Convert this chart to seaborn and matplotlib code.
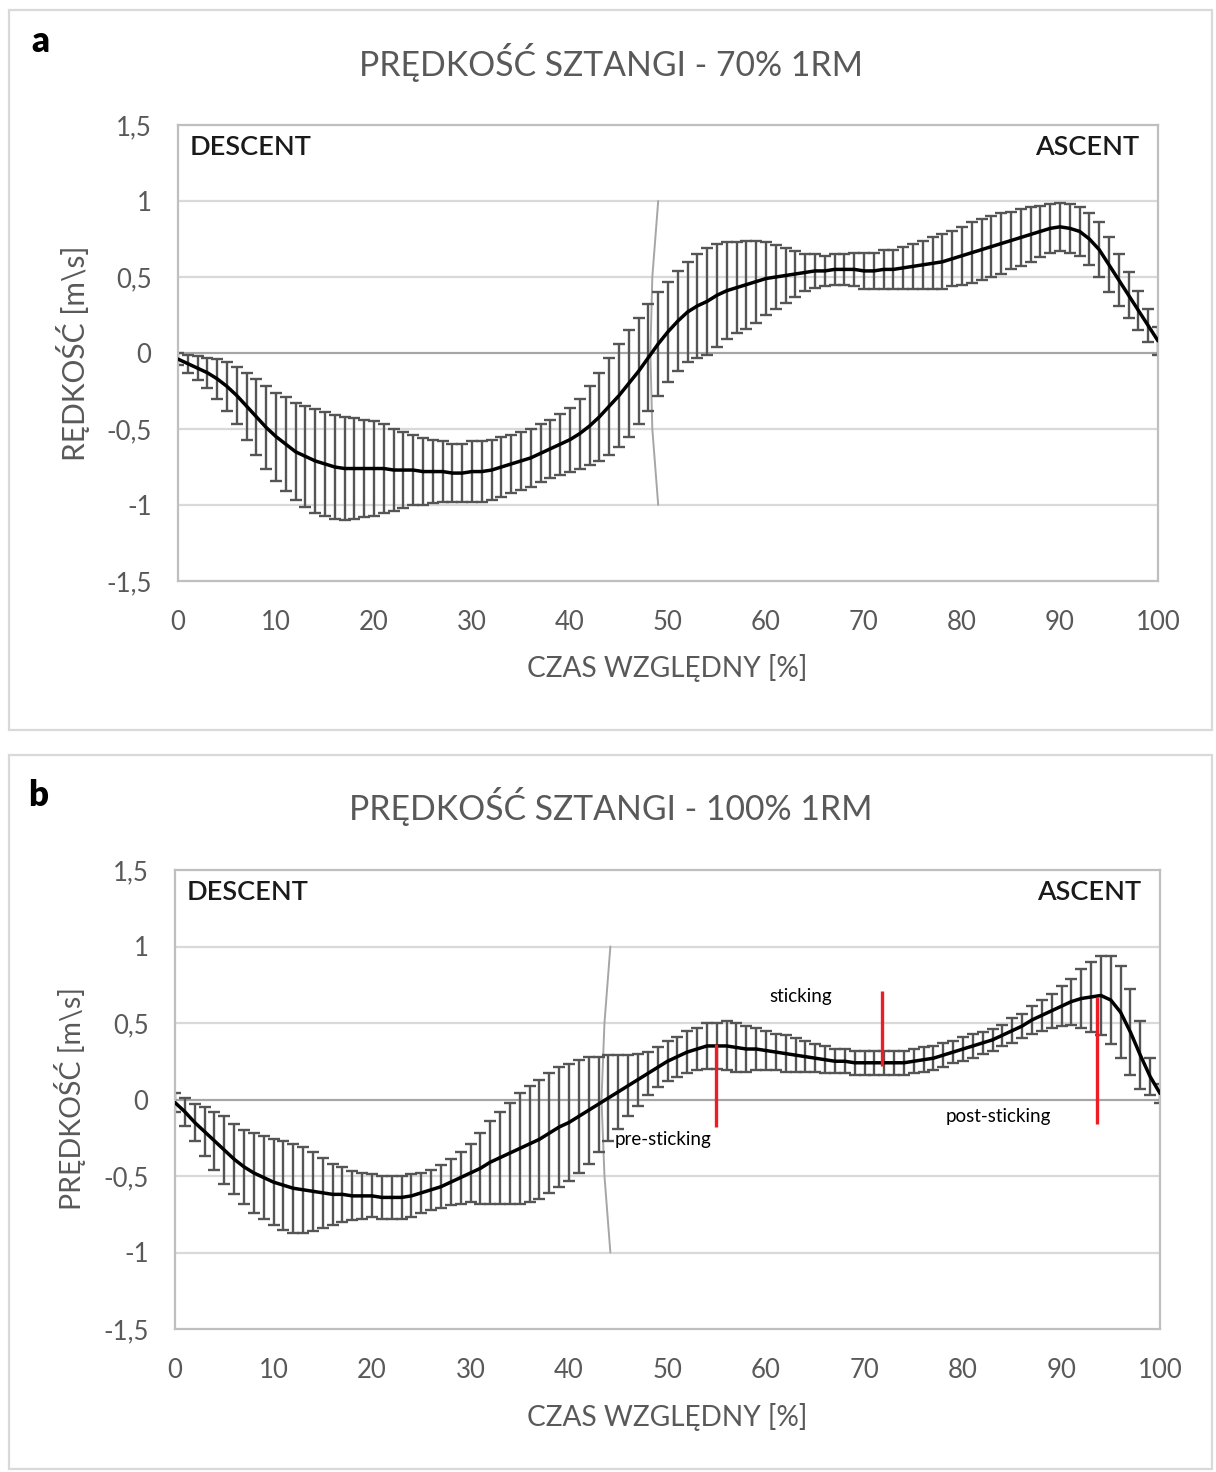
import numpy as np
import pandas as pd
import matplotlib
matplotlib.use("Agg")
import matplotlib.pyplot as plt
from matplotlib.patches import Rectangle
import seaborn as sns

# ---------------- data ----------------
time_pct = list(range(0, 101))

mean_70 = [-0.04, -0.07, -0.10, -0.13, -0.17, -0.22, -0.28, -0.35, -0.42, -0.49,
           -0.55, -0.60, -0.65, -0.68, -0.71, -0.73, -0.75, -0.76, -0.76, -0.76,
           -0.76, -0.76, -0.77, -0.77, -0.77, -0.78, -0.78, -0.78, -0.79, -0.79,
           -0.78, -0.78, -0.77, -0.75, -0.73, -0.71, -0.69, -0.66, -0.63, -0.60,
           -0.57, -0.53, -0.48, -0.42, -0.35, -0.28, -0.20, -0.12, -0.03, 0.06,
           0.14, 0.21, 0.27, 0.31, 0.34, 0.38, 0.41, 0.43, 0.45, 0.47,
           0.49, 0.50, 0.51, 0.52, 0.53, 0.54, 0.54, 0.55, 0.55, 0.55,
           0.54, 0.54, 0.55, 0.55, 0.56, 0.57, 0.58, 0.59, 0.60, 0.62,
           0.64, 0.66, 0.68, 0.70, 0.72, 0.74, 0.76, 0.78, 0.80, 0.82,
           0.83, 0.82, 0.80, 0.75, 0.68, 0.58, 0.48, 0.38, 0.28, 0.18,
           0.08]
sd_70 = [0.04, 0.06, 0.08, 0.10, 0.13, 0.16, 0.19, 0.22, 0.25, 0.27,
         0.29, 0.31, 0.32, 0.33, 0.34, 0.34, 0.34, 0.34, 0.33, 0.32,
         0.31, 0.29, 0.27, 0.25, 0.23, 0.22, 0.21, 0.20, 0.19, 0.19,
         0.20, 0.20, 0.20, 0.20, 0.19, 0.19, 0.19, 0.19, 0.19, 0.20,
         0.21, 0.23, 0.26, 0.29, 0.32, 0.34, 0.35, 0.35, 0.35, 0.34,
         0.33, 0.33, 0.33, 0.34, 0.35, 0.34, 0.32, 0.30, 0.29, 0.27,
         0.24, 0.21, 0.18, 0.15, 0.12, 0.11, 0.10, 0.10, 0.10, 0.11,
         0.12, 0.12, 0.13, 0.13, 0.14, 0.15, 0.16, 0.17, 0.18, 0.18,
         0.19, 0.20, 0.20, 0.20, 0.20, 0.19, 0.19, 0.18, 0.17, 0.16,
         0.16, 0.16, 0.16, 0.17, 0.18, 0.18, 0.17, 0.15, 0.13, 0.11,
         0.09]

mean_100 = [-0.02, -0.08, -0.15, -0.21, -0.27, -0.33, -0.39, -0.44, -0.48, -0.51,
            -0.54, -0.56, -0.58, -0.59, -0.60, -0.61, -0.62, -0.62, -0.63, -0.63,
            -0.63, -0.64, -0.64, -0.64, -0.63, -0.61, -0.59, -0.57, -0.54, -0.51,
            -0.48, -0.45, -0.41, -0.38, -0.35, -0.32, -0.29, -0.26, -0.22, -0.18,
            -0.15, -0.11, -0.07, -0.03, 0.01, 0.05, 0.09, 0.13, 0.17, 0.21,
            0.25, 0.28, 0.31, 0.33, 0.35, 0.35, 0.35, 0.34, 0.33, 0.33,
            0.32, 0.31, 0.30, 0.29, 0.28, 0.27, 0.26, 0.25, 0.25, 0.24,
            0.24, 0.24, 0.24, 0.24, 0.24, 0.25, 0.26, 0.27, 0.29, 0.31,
            0.33, 0.35, 0.37, 0.39, 0.42, 0.45, 0.48, 0.52, 0.55, 0.58,
            0.61, 0.64, 0.66, 0.67, 0.68, 0.65, 0.57, 0.44, 0.29, 0.15,
            0.04]
sd_100 = [0.06, 0.09, 0.12, 0.16, 0.19, 0.22, 0.23, 0.24, 0.26, 0.27,
          0.28, 0.29, 0.29, 0.28, 0.26, 0.23, 0.20, 0.18, 0.16, 0.15,
          0.14, 0.14, 0.14, 0.14, 0.14, 0.13, 0.13, 0.14, 0.15, 0.17,
          0.19, 0.23, 0.27, 0.30, 0.33, 0.36, 0.38, 0.39, 0.39, 0.39,
          0.38, 0.37, 0.35, 0.31, 0.28, 0.24, 0.20, 0.17, 0.14, 0.13,
          0.13, 0.13, 0.14, 0.14, 0.15, 0.15, 0.16, 0.16, 0.15, 0.14,
          0.13, 0.12, 0.12, 0.11, 0.10, 0.09, 0.09, 0.08, 0.08, 0.08,
          0.08, 0.08, 0.08, 0.08, 0.08, 0.08, 0.08, 0.08, 0.08, 0.07,
          0.08, 0.08, 0.07, 0.07, 0.07, 0.08, 0.08, 0.09, 0.10, 0.11,
          0.13, 0.15, 0.19, 0.23, 0.26, 0.29, 0.30, 0.28, 0.22, 0.12,
          0.06]

# boundary (descent/ascent) guide line: x positions at given y levels
guide_y = [1.0, 0.5, 0.0, -0.5, -1.0]
guide_x_70 = [49.0, 48.4, 48.2, 48.4, 49.0]
guide_x_100 = [44.2, 43.6, 43.3, 43.6, 44.2]

# sticking-region markers (panel b)
marker_x = [54.9, 71.8, 93.6]
marker_lo = [-0.18, 0.22, -0.16]
marker_hi = [0.36, 0.71, 0.67]
marker_labels = ["pre-sticking", "sticking", "post-sticking"]
marker_label_pos = [(44.6, -0.26, "left"), (63.5, 0.67, "center"), (83.6, -0.11, "center")]

y_ticks = [-1.5, -1.0, -0.5, 0.0, 0.5, 1.0, 1.5]
y_ticklabels = ["-1,5", "-1", "-0,5", "0", "0,5", "1", "1,5"]
x_ticks = list(range(0, 101, 10))

titles = ["PRĘDKOŚĆ SZTANGI - 70% 1RM", "PRĘDKOŚĆ SZTANGI - 100% 1RM"]
ylabels = ["RĘDKOŚĆ [m\\s]", "PRĘDKOŚĆ [m\\s]"]
xlabel = "CZAS WZGLĘDNY [%]"
panel_letters = ["a", "b"]

df70 = pd.DataFrame({"t": time_pct, "v": mean_70, "sd": sd_70})
df100 = pd.DataFrame({"t": time_pct, "v": mean_100, "sd": sd_100})

# ---------------- style ----------------
sns.set_theme(style="white")
plt.rcParams["font.family"] = ["Lato", "DejaVu Sans"]

W, H = 1216, 1472
fig = plt.figure(figsize=(W / 100, H / 100), dpi=100)
fig.patch.set_facecolor("white")

def fx(px):
    return px / W

def fy(py):
    return 1 - py / H

GRAY_TXT = "#595959"
GRID = "#d9d9d9"
BORDER = "#bfbfbf"

# panel frames
for (x0, y0, x1, y1) in [(9, 10, 1212, 730), (9, 755, 1212, 1469)]:
    fig.patches.append(Rectangle((fx(x0), fy(y1)), fx(x1) - fx(x0), fy(y0) - fy(y1),
                                 transform=fig.transFigure, fill=False,
                                 edgecolor=GRID, linewidth=1.6, zorder=0))

axes_px = [(178, 125, 1158, 581), (175, 870, 1160, 1329)]
panels = [(df70, guide_x_70), (df100, guide_x_100)]
title_y = [62, 806]
xlabel_y = [668, 1417]
ylabel_xy = [(73, 353), (70, 1099)]
ylabel_size = [21.5, 20.5]
letter_xy = [(40, 42), (38, 795)]

for i, ((l, t, r, b), (df, gx)) in enumerate(zip(axes_px, panels)):
    ax = fig.add_axes([fx(l), fy(b), fx(r) - fx(l), fy(t) - fy(b)])
    ax.set_xlim(0, 100)
    ax.set_ylim(-1.5, 1.5)
    for s in ax.spines.values():
        s.set_color(BORDER)
        s.set_linewidth(1.6)
    for yv in [-1.0, -0.5, 0.5, 1.0]:
        ax.axhline(yv, color=GRID, lw=1.6, zorder=0)
    ax.axhline(0, color="#a6a6a6", lw=1.6, zorder=1)

    # guide line
    ax.plot(gx, guide_y, color="#a6a6a6", lw=1.4, zorder=1)

    # error bars
    ax.errorbar(df["t"], df["v"], yerr=df["sd"], fmt="none", ecolor="#555555",
                elinewidth=1.7, capsize=4.2, capthick=1.7, zorder=2)
    # mean line
    sns.lineplot(data=df, x="t", y="v", ax=ax, color="black", lw=2.5,
                 zorder=3, errorbar=None)

    ax.set_xticks(x_ticks)
    ax.set_xticklabels([str(v) for v in x_ticks])
    ax.set_yticks(y_ticks)
    ax.set_yticklabels(y_ticklabels)
    ax.tick_params(axis="both", length=0, labelsize=18.5, labelcolor=GRAY_TXT)
    ax.tick_params(axis="y", pad=19)
    ax.tick_params(axis="x", pad=21)
    ax.set_xlabel("")
    ax.set_ylabel("")

    ax.text(0.012, 0.95, "DESCENT", transform=ax.transAxes, ha="left", va="center",
            fontsize=19.5, color="#1a1a1a", fontweight="semibold")
    ax.text(0.981, 0.95, "ASCENT", transform=ax.transAxes, ha="right", va="center",
            fontsize=19.5, color="#1a1a1a", fontweight="semibold")

    fig.text(fx(611), fy(title_y[i]), titles[i], ha="center", va="center",
             fontsize=24.3, color=GRAY_TXT)
    fig.text(fx(667), fy(xlabel_y[i]), xlabel, ha="center", va="center",
             fontsize=20.2, color=GRAY_TXT)
    fig.text(fx(ylabel_xy[i][0]), fy(ylabel_xy[i][1]), ylabels[i], ha="center",
             va="center", rotation=90, fontsize=ylabel_size[i], color=GRAY_TXT)
    fig.text(fx(letter_xy[i][0]), fy(letter_xy[i][1]), panel_letters[i], ha="center",
             va="center", fontsize=25, fontweight="heavy", color="black")

    if i == 1:
        ax.vlines(marker_x, marker_lo, marker_hi, colors="#ee1c25", lw=2.4, zorder=4)
        for lab, (px_, py_, ha_) in zip(marker_labels, marker_label_pos):
            ax.text(px_, py_, lab, ha=ha_, va="center", fontsize=13.5, color="black", zorder=5)

fig.savefig("out.png", dpi=100)
